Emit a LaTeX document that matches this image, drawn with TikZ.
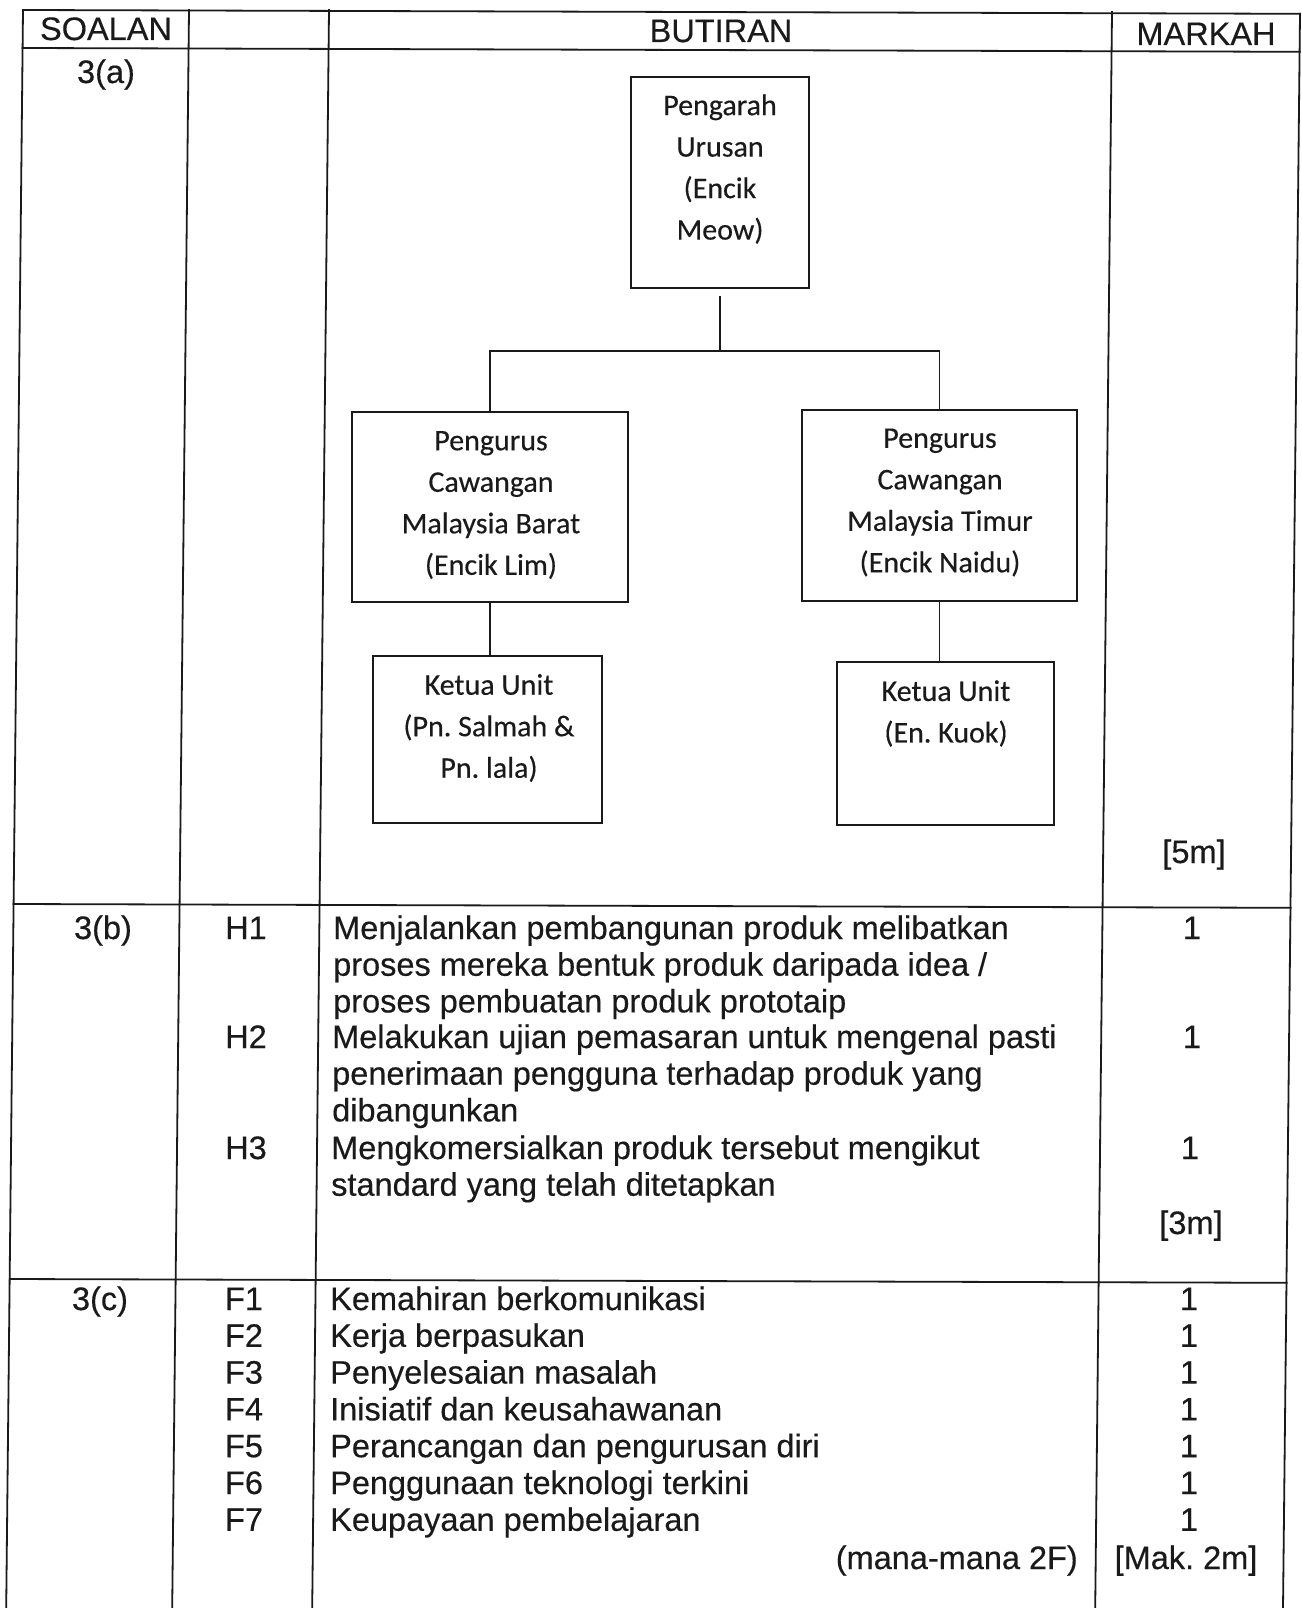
\documentclass[tikz,border=0pt]{standalone}
\usepackage{fontspec}
\setmainfont[FakeBold=0.35]{Liberation Sans}
\newfontfamily\boxfont[FakeBold=0.3]{Carlito}
\definecolor{ink}{HTML}{1A1A1A}
\frenchspacing
\begin{document}
\begin{tikzpicture}[x=1pt,y=-1pt,
  rule/.style={draw=ink,line width=1.8pt,line cap=rect},
  cell/.style={font=\fontsize{32.5}{36.7}\selectfont,inner sep=0pt,text=ink},
  orgbox/.style={draw=ink,line width=1.8pt,inner sep=0pt},
  orgtext/.style={font=\boxfont\fontsize{30}{41.5}\selectfont,align=center,inner sep=0pt,text=ink},
  link/.style={draw=ink,line width=1.8pt}]
\fill[white] (0,0) rectangle (1301,1608);
\useasboundingbox (0,0) rectangle (1301,1608);
% table rules (scan is slightly skewed)
\draw[rule] (23,10) -- (1300,13.8);
\draw[rule] (22.6,48) -- (1299.6,51.8);
\draw[rule] (13.6,904) -- (1290.6,907.8);
\draw[rule] (9.7,1279) -- (1286.7,1282.8);
\draw[rule] (23,10) -- (6.2,1608);
\draw[rule] (189,10) -- (172.2,1608);
\draw[rule] (329,10) -- (312.2,1608);
\draw[rule] (1112,12) -- (1095.2,1608);
\draw[rule] (1300,13.8) -- (1283,1608);
% header
\node[cell,anchor=base] (hsoalan) at (106,40) {SOALAN};
\node[cell,anchor=base] (hbutiran) at (721,42) {BUTIRAN};
\node[cell,anchor=base] (hmarkah) at (1206,45) {MARKAH};
% 3(a)
\node[cell,anchor=base] (qa) at (106,83) {3(a)};
\node[orgbox,minimum width=178pt,minimum height=211pt] (pu) at (720,182.5) {};
\node[orgbox,minimum width=276pt,minimum height=190pt] (mpb) at (490,507) {};
\node[orgbox,minimum width=275pt,minimum height=191pt] (mpt) at (939.5,505.5) {};
\node[orgbox,minimum width=229pt,minimum height=167pt] (ku1) at (487.5,739.5) {};
\node[orgbox,minimum width=217pt,minimum height=163pt] (ku2) at (945.5,743.5) {};
\node[orgtext] (pu-t) at (720,169) {Pengarah\\Urusan\\(Encik\\Meow)};
\node[orgtext] (mpb-t) at (491,505) {Pengurus\\Cawangan\\Malaysia Barat\\(Encik Lim)};
\node[orgtext] (mpt-t) at (940,502.5) {Pengurus\\Cawangan\\Malaysia Timur\\(Encik Naidu)};
\node[orgtext] (ku1-t) at (489,728) {Ketua Unit\\(Pn. Salmah \&\\Pn. lala)};
\node[orgtext] (ku2-t) at (946,713.5) {Ketua Unit\\(En. Kuok)};
\coordinate (bus) at (720,351);
\draw[link,shorten <=7pt] (pu.south) -- (pu.south |- bus);
\draw[link] (mpb.north) |- (bus) -| (mpt.north);
\draw[link] (mpb.south) -- (mpb.south |- ku1.north);
\draw[link] (mpt.south) -- (mpt.south |- ku2.north);
\node[cell,anchor=base] (ma) at (1194,863) {[5m]};
% 3(b)
\node[cell,anchor=base] (qb) at (103,939) {3(b)};
\node[cell,anchor=base] (h1) at (246,939) {H1};
\node[cell,anchor=base] (h2) at (246,1048) {H2};
\node[cell,anchor=base] (h3) at (246,1159) {H3};
\node[cell,anchor=base west] (b1a) at (333,939) {Menjalankan pembangunan produk melibatkan};
\node[cell,anchor=base west] (b1b) at (333,975.7) {proses mereka bentuk produk daripada idea /};
\node[cell,anchor=base west] (b1c) at (333,1012.4) {proses pembuatan produk prototaip};
\node[cell,anchor=base west] (b2a) at (332,1048) {Melakukan ujian pemasaran untuk mengenal pasti};
\node[cell,anchor=base west] (b2b) at (332,1084.7) {penerimaan pengguna terhadap produk yang};
\node[cell,anchor=base west] (b2c) at (332,1121.4) {dibangunkan};
\node[cell,anchor=base west] (b3a) at (331,1159) {Mengkomersialkan produk tersebut mengikut};
\node[cell,anchor=base west] (b3b) at (331,1195.7) {standard yang telah ditetapkan};
\node[cell,anchor=base] (mb1) at (1192,939) {1};
\node[cell,anchor=base] (mb2) at (1192,1048) {1};
\node[cell,anchor=base] (mb3) at (1190,1159) {1};
\node[cell,anchor=base] (mb) at (1191,1234) {[3m]};
% 3(c)
\node[cell,anchor=base] (qc) at (100,1310) {3(c)};
\foreach \i/\t [count=\k from 0] in {1/Kemahiran berkomunikasi,2/Kerja berpasukan,3/Penyelesaian masalah,4/Inisiatif dan keusahawanan,5/Perancangan dan pengurusan diri,6/Penggunaan teknologi terkini,7/Keupayaan pembelajaran}{
  \node[cell,anchor=base] (f\i) at (244,1310+36.8*\k) {F\i};
  \node[cell,anchor=base west] (c\i) at (330,1310+36.8*\k) {\t};
  \node[cell,anchor=base] (m\i) at (1189,1310+36.8*\k) {1};
}
\node[cell,anchor=base east] (any) at (1078,1569) {(mana-mana 2F)};
\node[cell,anchor=base] (mc) at (1186,1569) {[Mak. 2m]};
\end{tikzpicture}
\end{document}
